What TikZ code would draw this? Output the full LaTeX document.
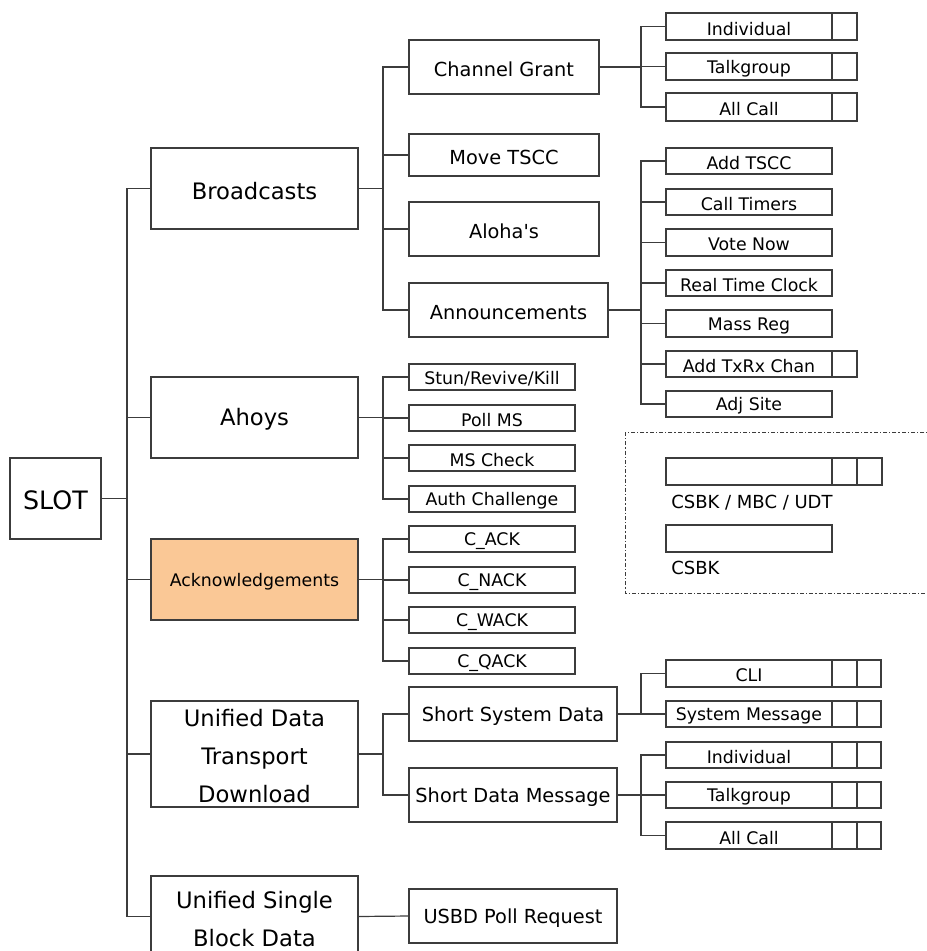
\documentclass[tikz,border=0pt]{standalone}
\usepackage{fontspec}
\setmainfont{DejaVu Sans}
\definecolor{linec}{RGB}{60,60,60}
\definecolor{ackfill}{RGB}{250,200,150}
\newcommand\fA{\fontsize{17}{28.5}\selectfont}
\newcommand\fS{\fontsize{19}{22}\selectfont}
\newcommand\fB{\fontsize{14.5}{17}\selectfont}
\newcommand\fC{\fontsize{13}{15}\selectfont}
\newcommand\fK{\fontsize{13}{15}\selectfont}
\tikzset{
  box/.style={draw=linec, line width=0.9pt, inner sep=0pt, outer sep=0pt, fill=white},
  boxtext/.style={inner sep=0pt, align=center, text=black},
  conn/.style={draw=linec, line width=0.9pt},
  legendbox/.style={draw=linec, line width=0.7pt, dash pattern=on 3pt off 1.6pt on 0.8pt off 1.6pt},
  legendlabel/.style={anchor=west, inner sep=0pt, font=\fontsize{13.5}{16}\selectfont},
}
% \bx[style]{name}{x1}{y1}{x2}{y2}{font}{text}
\newcommand\bx[8][]{%
  \pgfmathsetmacro\bxw{(#5-#3)*0.75}%
  \pgfmathsetmacro\bxh{(#6-#4)*0.75}%
  \node[box, #1, minimum width=\bxw pt, minimum height=\bxh pt] (#2) at ({(#3+#5)/2},{(#4+#6)/2}) {};%
  \node[boxtext, font=#7] (#2-t) at ([yshift=-1.6pt]#2.center) {#8};}
\begin{document}
\begin{tikzpicture}[x=0.75pt, y=-0.75pt]
\path[use as bounding box] (0,0) rectangle (927,951);
\clip (0,0) rectangle (927,951);

% ---------- boxes ----------
\bx{slot}{10}{458}{101}{539}{\fS}{SLOT}

\bx{bc}{151}{148}{358}{229}{\fA}{Broadcasts}
\bx{ah}{151}{377}{358}{458}{\fA}{Ahoys}
\bx[fill=ackfill]{ack}{151}{539}{358}{620}{\fK}{Acknowledgements}
\bx{udt}{151}{701}{358}{807}{\fA}{Unified Data\\Transport\\Download}
\bx{usb}{151}{876}{358}{957}{\fA}{Unified Single\\Block Data}

\bx{cg}{409}{40}{599}{94}{\fB}{Channel Grant}
\bx{mt}{409}{134}{599}{176}{\fB}{Move TSCC}
\bx{al}{409}{202}{599}{256}{\fB}{Aloha\textquotesingle s}
\bx{an}{409}{283}{608}{337}{\fB}{Announcements}

\bx{st}{409}{364}{575}{390}{\fC}{Stun/Revive/Kill}
\bx{pm}{409}{405}{575}{431}{\fC}{Poll MS}
\bx{mc}{409}{445}{575}{471}{\fC}{MS Check}
\bx{ac}{409}{486}{575}{512}{\fC}{Auth Challenge}

\bx{ca}{409}{526}{575}{552}{\fC}{C\_ACK}
\bx{cn}{409}{567}{575}{593}{\fC}{C\_NACK}
\bx{cw}{409}{607}{575}{633}{\fC}{C\_WACK}
\bx{cq}{409}{648}{575}{674}{\fC}{C\_QACK}

\bx{ss}{409}{687}{617}{741}{\fB}{Short System Data}
\bx{sd}{409}{768}{617}{822}{\fB}{Short Data Message}
\bx{up}{409}{889}{617}{943}{\fB}{USBD Poll Request}

% Channel Grant children
\bx{i1}{666}{13}{832}{40}{\fC}{Individual}
\bx{i1c}{832}{13}{857}{40}{\fC}{}
\bx{t1}{666}{53}{832}{80}{\fC}{Talkgroup}
\bx{t1c}{832}{53}{857}{80}{\fC}{}
\bx{a1}{666}{93}{832}{121}{\fC}{All Call}
\bx{a1c}{832}{93}{857}{121}{\fC}{}

% Announcements children
\bx{at}{666}{148}{832}{174}{\fC}{Add TSCC}
\bx{ct}{666}{189}{832}{215}{\fC}{Call Timers}
\bx{vn}{666}{229}{832}{256}{\fC}{Vote Now}
\bx{rt}{666}{270}{832}{296}{\fC}{Real Time Clock}
\bx{mr}{666}{310}{832}{337}{\fC}{Mass Reg}
\bx{tx}{666}{351}{832}{377}{\fC}{Add TxRx Chan}
\bx{txc}{832}{351}{857}{377}{\fC}{}
\bx{as}{666}{391}{832}{417}{\fC}{Adj Site}

% Short System Data children
\bx{cli}{666}{660}{832}{687}{\fC}{CLI}
\bx{clia}{832}{660}{857}{687}{\fC}{}
\bx{clib}{857}{660}{881}{687}{\fC}{}
\bx{sm}{666}{701}{832}{727}{\fC}{System Message}
\bx{sma}{832}{701}{857}{727}{\fC}{}
\bx{smb}{857}{701}{881}{727}{\fC}{}

% Short Data Message children
\bx{i2}{666}{742}{832}{768}{\fC}{Individual}
\bx{i2a}{832}{742}{857}{768}{\fC}{}
\bx{i2b}{857}{742}{881}{768}{\fC}{}
\bx{t2}{666}{782}{832}{808}{\fC}{Talkgroup}
\bx{t2a}{832}{782}{857}{808}{\fC}{}
\bx{t2b}{857}{782}{881}{808}{\fC}{}
\bx{a2}{666}{822}{832}{849}{\fC}{All Call}
\bx{a2a}{832}{822}{857}{849}{\fC}{}
\bx{a2b}{857}{822}{881}{849}{\fC}{}

% ---------- legend ----------
\draw[legendbox] (625,432) rectangle (945,593);
\bx{lg1}{666}{458}{832}{485}{\fC}{}
\bx{lg1a}{832}{458}{857}{485}{\fC}{}
\bx{lg1b}{857}{458}{882}{485}{\fC}{}
\node[legendlabel] (lgt1) at (671,503) {CSBK / MBC / UDT};
\bx{lg2}{666}{525}{832}{552}{\fC}{}
\node[legendlabel] (lgt2) at (671,568) {CSBK};

% ---------- connectors ----------
\coordinate (jt) at (127,498.5);
\draw[conn] (slot.east) -- (jt);
\draw[conn] (jt) |- (bc.west);
\draw[conn] (jt) |- (ah.west);
\draw[conn] (jt) |- (ack.west);
\draw[conn] (jt) |- (udt.west);
\draw[conn] (jt) |- (usb.west);

\coordinate (jb) at (383,188.5);
\draw[conn] (bc.east) -- (jb);
\draw[conn] (jb) |- (cg.west);
\draw[conn] (jb) |- (mt.west);
\draw[conn] (jb) |- (al.west);
\draw[conn] (jb) |- (an.west);

\coordinate (ja) at (383,417.5);
\draw[conn] (ah.east) -- (ja);
\draw[conn] (ja) |- (st.west);
\draw[conn] (ja) |- (pm.west);
\draw[conn] (ja) |- (mc.west);
\draw[conn] (ja) |- (ac.west);

\coordinate (jk) at (383,579.5);
\draw[conn] (ack.east) -- (jk);
\draw[conn] (jk) |- (ca.west);
\draw[conn] (jk) |- (cn.west);
\draw[conn] (jk) |- (cw.west);
\draw[conn] (jk) |- (cq.west);

\coordinate (ju) at (383,754);
\draw[conn] (udt.east) -- (ju);
\draw[conn] (ju) |- (ss.west);
\draw[conn] (ju) |- (sd.west);

\draw[conn] (usb.east) -- (up.west);

\coordinate (jc) at (641,67);
\draw[conn] (cg.east) -- (jc);
\draw[conn] (jc) |- (i1.west);
\draw[conn] (jc) |- (t1.west);
\draw[conn] (jc) |- (a1.west);

\coordinate (jn) at (641,310);
\draw[conn] (an.east) -- (jn);
\draw[conn] (jn) |- (at.west);
\draw[conn] (jn) |- (ct.west);
\draw[conn] (jn) |- (vn.west);
\draw[conn] (jn) |- (rt.west);
\draw[conn] (jn) |- (mr.west);
\draw[conn] (jn) |- (tx.west);
\draw[conn] (jn) |- (as.west);

\coordinate (js) at (641,714);
\draw[conn] (ss.east) -- (js);
\draw[conn] (js) |- (cli.west);
\draw[conn] (js) |- (sm.west);

\coordinate (jd) at (641,795);
\draw[conn] (sd.east) -- (jd);
\draw[conn] (jd) |- (i2.west);
\draw[conn] (jd) |- (t2.west);
\draw[conn] (jd) |- (a2.west);
\end{tikzpicture}
\end{document}
